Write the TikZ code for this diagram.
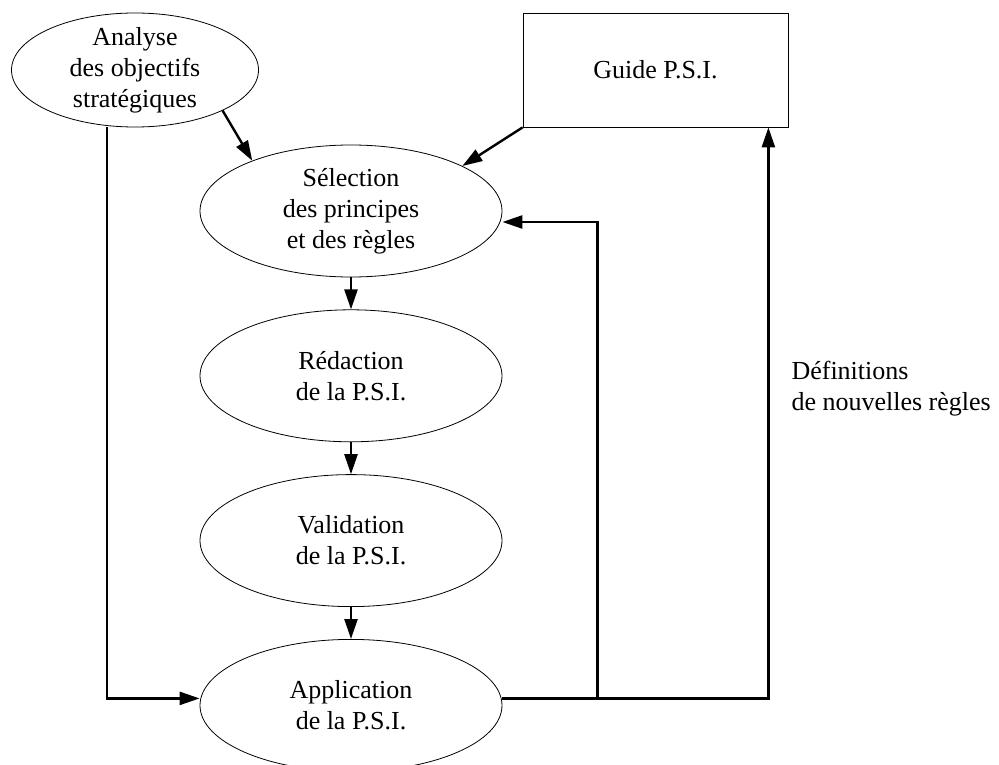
\documentclass[tikz,border=0pt]{standalone}
\usepackage{fontspec}
\setmainfont{Liberation Serif}
\usetikzlibrary{arrows.meta,positioning,shapes.geometric}

\begin{document}
\begin{tikzpicture}[
      x=1pt,y=-1pt,
      node distance=32pt,
      stage/.style={draw,ellipse,line width=0.8pt,inner sep=0pt,align=center,
        minimum width=302pt,minimum height=132pt,font=\fontsize{26}{31}\selectfont},
      doc/.style={draw,line width=0.8pt,inner sep=0pt,align=center,
        minimum width=265pt,minimum height=114pt,font=\fontsize{26}{31}\selectfont},
      arrow/.style={-{Triangle[length=20pt,width=13pt]},line width=2.4pt}
    ]
      \useasboundingbox (0,0) rectangle (999,765);
      \node[stage,minimum width=247pt,minimum height=114pt,inner ysep=-4pt] (analyse) at (135,70)
        {Analyse\\des objectifs\\stratégiques};
      \node[doc] (guide) at (655.5,70) {Guide P.S.I.};
      \node[stage] (selection) at (351,211)
        {Sélection\\des principes\\et des règles};
      \node[stage,below=of selection] (redaction) {Rédaction\\de la P.S.I.};
      \node[stage,below=of redaction] (validation) {Validation\\de la P.S.I.};
      \node[stage,below=of validation] (application) {Application\\de la P.S.I.};
      \node[anchor=west,align=left,font=\fontsize{26}{31}\selectfont] (nouvelles) at (788,389)
        {Définitions\\de nouvelles règles};

      \path ([yshift=7pt]application.east) -- ++(95,0) coordinate (split);

      \draw[arrow] (analyse.south east) -- (selection.153);
      \draw[arrow] (guide.south west) -- (selection.22);
      \draw[arrow] (selection) -- (redaction);
      \draw[arrow] (redaction) -- (validation);
      \draw[arrow] (validation) -- (application);
      \draw[arrow] ([xshift=-28pt]analyse.south) |- ([yshift=7pt]application.west);
      \draw[arrow] ([yshift=7pt]application.east) -| ([xshift=-20pt]guide.south east);
      \draw[arrow] (split) |- ([yshift=-11pt]selection.east);
    \end{tikzpicture}
\end{document}
